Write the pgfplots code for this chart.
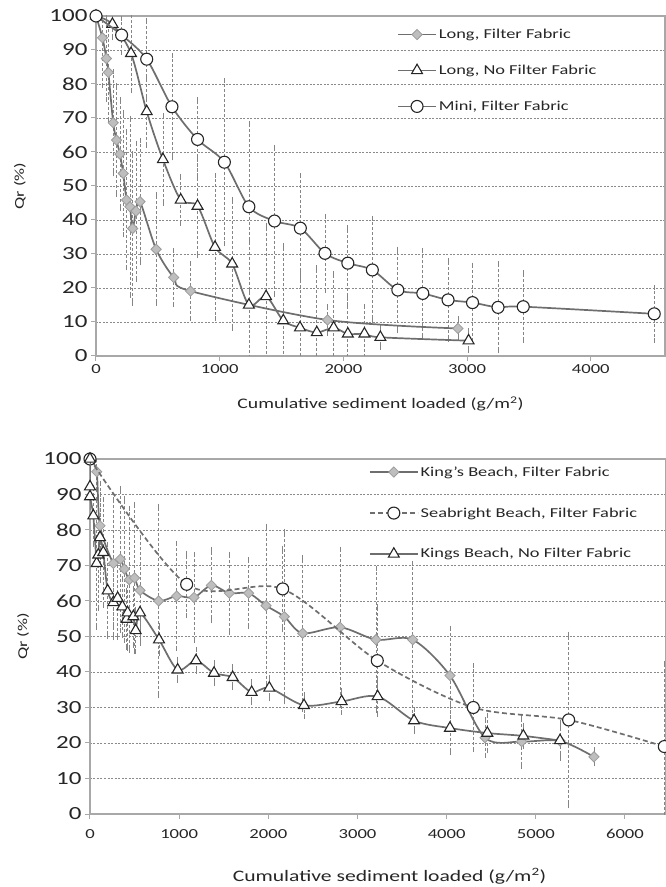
\documentclass[border=0pt]{standalone}
\usepackage{fontspec}
\setmainfont{Carlito}[FakeStretch=1.35]
\usepackage{pgfplots}
\usepackage{pgfplotstable}
\pgfplotsset{compat=1.18}

\definecolor{lineg}{HTML}{6E6E6E}
\definecolor{diafill}{HTML}{BEBEBE}
\definecolor{diaedge}{HTML}{9C9C9C}
\definecolor{gridg}{HTML}{8A8A8A}
\definecolor{axisg}{HTML}{A8A8A8}
\definecolor{errg}{HTML}{858585}
\definecolor{markedge}{HTML}{262626}

% ---------- top panel data ----------
\pgfplotstableread{
x y e
0 100 0
52 93.6 14
84 87.5 12
100 83.4 14
139 68.6 15
166 63.5 16
193 59.4 16
220 53.7 18
247 45.9 20
274 43.9 26
296 37.5 22
323 42.6 20
356 45.4 18
486 31.4 16
628 23.1 8
764 19.1 8
1872 10.6 4
2926 8.1 3
}\LFF

\pgfplotstableread{
x y e
0 100 0
133 97.6 4
283 89 11
410 71.9 10
541 57.8 13
685 45.9 7
821 44.1 14.5
962 32 21
1101 27.1 19
1236 15 19
1375 17.5 21
1514 10.4 22
1649 8.3 16
1785 6.9 19
1921 8.3 16
2036 6.5 8.5
2170 6.5 8
2299 5.5 3
3012 4.5 3
}\LNF

\pgfplotstableread{
x y e
0 100 0
207 94.4 5
410 87.3 11.5
614 73.3 15
821 63.7 11.6
1038 57 24
1236 43.9 24.5
1443 39.7 21.7
1652 37.6 15.4
1851 30.2 10.8
2036 27.3 10.5
2234 25.3 15
2440 19.4 12
2642 18.4 12.7
2846 16.5 11.7
3044 15.7 11
3250 14.3 12.8
3454 14.5 10
4513 12.4 7.8
}\MFF

% ---------- bottom panel data ----------
\pgfplotstableread{
x y e
0 100 0
75 96.4 5
112 81.2 12
262 70.6 18
340 71.8 20
385 69 20
440 66 20
500 66.5 20.6
561 63 15
770 60 26.7
972 61.4 14.8
1166 61 12
1361 64.4 10
1563 62.2 11
1779 62.2 9.5
1974 58.7 22.4
2179 55.6 24
2385 50.9 21.4
2804 52.6 22
3207 49.1 20
3619 49.1 21.5
4037 39 13.3
4430 21.5 5
4841 20.4 7
5271 20.6 4
5652 16.1 2
}\KFF

\pgfplotstableread{
x y e
0 100 0
1084 64.7 8.8
2161 63.4 11.5
3222 43.2 15.2
4299 30 11.7
5368 26.5 24.2
6441 19 23.5
}\SFF

\pgfplotstableread{
x y e
0 100 0
0 92.2 3
0 89.4 3
37 84 8
75 70.6 18
93 73 15
112 77.9 12
149 73.7 15
198 62.9 13
262 59.6 10
310 60.8 11
363 58.4 8
411 54.9 8
422 56.7 10
486 55.6 8
512 51.7 6
561 56.7 8
774 49.1 4
983 40.6 3
1189 43.2 3
1391 39.7 3
1600 38.5 3
1813 34.3 3
2011 35.5 3
2400 30.6 3
2822 31.7 3
3226 33.1 5
3634 26.3 3
4037 24.2 7
4456 22.8 5
4860 22 3
5271 20.7 5
}\KNF

\pgfplotsset{
  myaxis/.style={
    scale only axis,
    ymin=0, ymax=100, ytick={0,10,...,100},
    axis line style={axisg, line width=1.3pt},
    ymajorgrids,
    major grid style={gridg, line width=0.6pt, dash pattern=on 2pt off 1.5pt},
    tick align=outside, major tick length=5pt,
    xtick pos=bottom, ytick pos=left,
    tick style={axisg, line width=1pt},
    yticklabel style={font=\fontsize{18.5}{20}\selectfont, text=black!85},
    xticklabel style={font=\fontsize{13.8}{16}\selectfont, text=black!85},
    /pgf/number format/assume math mode=true,
    /pgf/number format/1000 sep={},
    ylabel={Qr (\%)},
    xlabel={Cumulative sediment loaded (g/m\textsuperscript{2})},
    clip mode=individual,
    legend cell align=left,
    legend style={draw=none, fill=none, font=\fontsize{13.6}{16}\selectfont, anchor=north west, inner sep=0pt, text=black!85},
  },
  errstyle/.style={forget plot, only marks, mark=none,
    error bars/.cd, y dir=both, y explicit,
    error bar style={errg, line width=0.7pt, dash pattern=on 3pt off 2pt},
    error mark=-, error mark options={errg, line width=0.7pt, mark size=2.5pt, solid}},
  lffstyle/.style={lineg, line width=1.7pt, smooth, mark=square*, mark size=3.6pt,
    mark options={rotate=45, fill=diafill, draw=diaedge, line width=0.8pt, solid}},
  trstyle/.style={lineg, line width=1.7pt, smooth, mark=triangle*, mark size=6.3pt,
    mark options={fill=white, draw=markedge, line width=1.1pt, solid}},
  cirstyle/.style={lineg, line width=1.7pt, smooth, mark=*, mark size=6pt,
    mark options={fill=white, draw=markedge, line width=1.1pt, solid}},
}

\begin{document}
\begin{tikzpicture}
\useasboundingbox (0pt,0pt) rectangle (666pt,887pt);

% ================= TOP PANEL =================
\begin{axis}[myaxis,
  at={(96pt,531pt)}, anchor=south west,
  width=569pt, height=340pt,
  xmin=0, xmax=4600, xtick={0,1000,...,4000},
  ylabel style={at={(axis description cs:-0.134,0.5)}, anchor=center, font=\fontsize{13.5}{16}\selectfont, text=black!85},
  xlabel style={at={(axis description cs:0.5,-0.141)}, anchor=center, font=\fontsize{14.6}{17}\selectfont, text=black!85},
  legend style={at={(axis description cs:0.529,0.968)}, row sep=21pt},
  legend image code/.code={\draw[mark repeat=2,mark phase=2,#1] plot coordinates {(0pt,0pt) (19pt,0pt) (38pt,0pt)};},
]
\addplot[errstyle] table[x=x,y=y,y error=e] {\LFF};
\addplot[errstyle] table[x=x,y=y,y error=e] {\LNF};
\addplot[errstyle] table[x=x,y=y,y error=e] {\MFF};
\addplot[lffstyle] table[x=x,y=y] {\LFF};
\addlegendentry{Long, Filter Fabric}
\addplot[trstyle] table[x=x,y=y] {\LNF};
\addlegendentry{Long, No Filter Fabric}
\addplot[cirstyle] table[x=x,y=y] {\MFF};
\addlegendentry{Mini, Filter Fabric}
\end{axis}

% ================= BOTTOM PANEL =================
\begin{axis}[myaxis,
  at={(90pt,73pt)}, anchor=south west,
  width=576pt, height=355pt,
  xmin=0, xmax=6460, xtick={0,1000,...,6000},
  ylabel style={at={(axis description cs:-0.116,0.5)}, anchor=center, font=\fontsize{13.5}{16}\selectfont, text=black!85},
  xlabel style={at={(axis description cs:0.52,-0.175)}, anchor=center, font=\fontsize{16}{18}\selectfont, text=black!85},
  xticklabel style={yshift=-7pt},
  legend style={at={(axis description cs:0.484,0.985)}, row sep=26pt},
  legend image code/.code={\draw[mark repeat=2,mark phase=2,#1] plot coordinates {(0pt,0pt) (24pt,0pt) (48pt,0pt)};},
]
\addplot[errstyle] table[x=x,y=y,y error=e] {\KFF};
\addplot[errstyle] table[x=x,y=y,y error=e] {\SFF};
\addplot[errstyle] table[x=x,y=y,y error=e] {\KNF};
\addplot[lffstyle] table[x=x,y=y] {\KFF};
\addlegendentry{King's Beach, Filter Fabric}
\addplot[cirstyle, dash pattern=on 5pt off 3pt] table[x=x,y=y] {\SFF};
\addlegendentry{Seabright Beach, Filter Fabric}
\addplot[trstyle] table[x=x,y=y] {\KNF};
\addlegendentry{Kings Beach, No Filter Fabric}
\end{axis}
\end{tikzpicture}
\end{document}
